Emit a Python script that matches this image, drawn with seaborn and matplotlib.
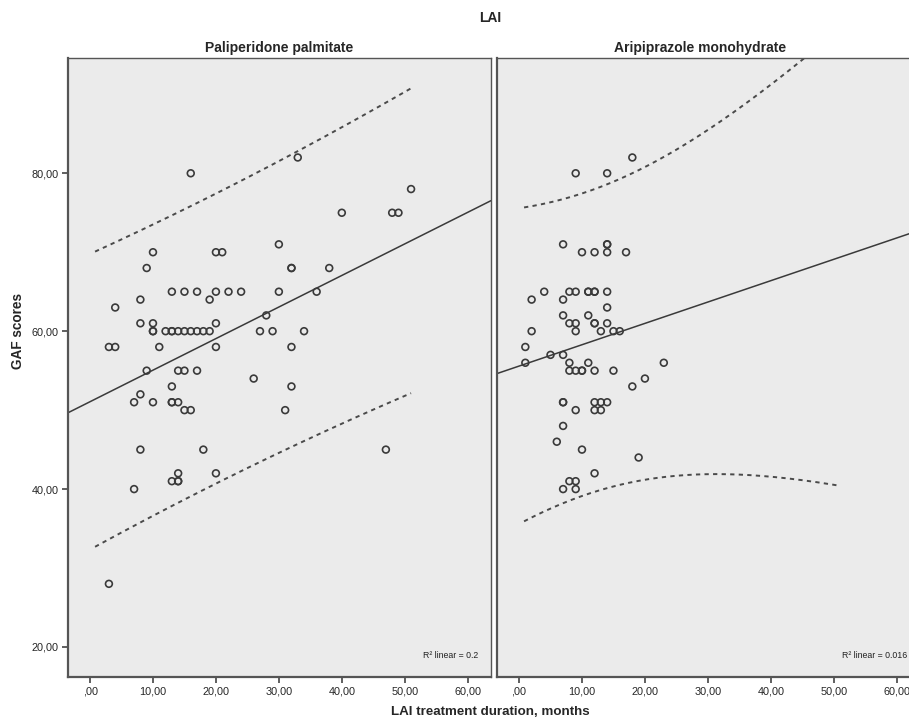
import numpy as np
import pandas as pd
import matplotlib
matplotlib.use('Agg')
import matplotlib.pyplot as plt
import seaborn as sns
from matplotlib.ticker import FuncFormatter

# values (months, GAF score)
pali_months = [16, 10, 9, 20, 21, 13, 15, 17, 20, 22, 24, 8, 19, 33, 51, 40, 48, 49, 30, 32, 32, 38,
               30, 36, 4, 8, 10, 10, 10, 12, 13, 13, 14, 15, 16, 17, 18, 19, 20, 27, 3, 4, 11, 20,
               9, 14, 15, 17, 26, 13, 8, 7, 10, 13, 13, 14, 15, 16, 28, 29, 34, 32, 32, 31, 47,
               8, 18, 14, 13, 14, 14, 20, 7, 3]
pali_gaf = [80, 70, 68, 70, 70, 65, 65, 65, 65, 65, 65, 64, 64, 82, 78, 75, 75, 75, 71, 68, 68, 68,
            65, 65, 63, 61, 61, 60, 60, 60, 60, 60, 60, 60, 60, 60, 60, 60, 61, 60, 58, 58, 58, 58,
            55, 55, 55, 55, 54, 53, 52, 51, 51, 51, 51, 51, 50, 50, 62, 60, 60, 58, 53, 50, 45,
            45, 45, 42, 41, 41, 41, 42, 40, 28]

arip_months = [9, 14, 18, 7, 14, 14, 10, 12, 14, 17, 2, 4, 7, 8, 9, 11, 11, 12, 12, 14, 14, 7, 11,
               8, 9, 12, 12, 14, 9, 13, 15, 16, 2, 1, 5, 7, 1, 8, 11, 8, 9, 10, 10, 12, 15, 23,
               20, 18, 7, 7, 12, 13, 14, 9, 12, 13, 7, 6, 10, 19, 12, 8, 9, 7, 9]
arip_gaf = [80, 80, 82, 71, 71, 71, 70, 70, 70, 70, 64, 65, 64, 65, 65, 65, 65, 65, 65, 65, 63, 62, 62,
            61, 61, 61, 61, 61, 60, 60, 60, 60, 60, 58, 57, 57, 56, 56, 56, 55, 55, 55, 55, 55, 55, 56,
            54, 53, 51, 51, 51, 51, 51, 50, 50, 50, 48, 46, 45, 44, 42, 41, 41, 40, 40]

drugs = ['Paliperidone palmitate', 'Aripiprazole monohydrate']
r2_labels = ['R\u00b2 linear = 0.2', 'R\u00b2 linear = 0.016']
x_ticks = [0, 10, 20, 30, 40, 50, 60]
y_ticks = [20, 40, 60, 80]

df = pd.concat([
    pd.DataFrame({'months': pali_months, 'gaf': pali_gaf, 'drug': drugs[0]}),
    pd.DataFrame({'months': arip_months, 'gaf': arip_gaf, 'drug': drugs[1]}),
])

sns.set_style('white')
plt.rcParams['font.family'] = ['Liberation Sans', 'DejaVu Sans']

fig = plt.figure(figsize=(9.09, 7.21), dpi=100)
W, H = 909, 721
ax1 = fig.add_axes([68 / W, 1 - 677 / H, 423 / W, 619 / H])
ax2 = fig.add_axes([497 / W, 1 - 677 / H, 423 / W, 619 / H])

xlim = (-3.5, 63.7)
ylim = (16.2, 94.6)
xmin_all, xmax_all = 0.8, df['months'].max()


def fmt(v, pos):
    if abs(v) < 1e-9:
        return ',00'
    return f'{v:.2f}'.replace('.', ',')


for ax, drug, r2 in zip([ax1, ax2], drugs, r2_labels):
    d = df[df['drug'] == drug]
    x = d['months'].to_numpy(float)
    y = d['gaf'].to_numpy(float)
    ax.set_facecolor('#ebebeb')
    sns.scatterplot(x=x, y=y, ax=ax, marker='o', s=24, facecolor='none',
                    edgecolor='#3a3a3a', linewidth=1.2, zorder=3)

    # linear fit and 95% individual prediction interval
    n = len(x)
    b, a = np.polyfit(x, y, 1)
    resid = y - (a + b * x)
    s = np.sqrt((resid ** 2).sum() / (n - 2))
    sxx = ((x - x.mean()) ** 2).sum()
    xl = np.linspace(xlim[0], xlim[1], 50)
    ax.plot(xl, a + b * xl, color='#3a3a3a', lw=1.1, zorder=2)
    xs = np.linspace(xmin_all, xmax_all, 200)
    half = 1.99 * s * np.sqrt(1 + 1 / n + (xs - x.mean()) ** 2 / sxx)
    for sign in (1, -1):
        ax.plot(xs, a + b * xs + sign * half, color='#4a4a4a', lw=1.4,
                linestyle=(0, (2.2, 2.2)), zorder=2)

    ax.set_xlim(*xlim)
    ax.set_ylim(*ylim)
    ax.set_xticks(x_ticks)
    ax.set_yticks(y_ticks)
    ax.xaxis.set_major_formatter(FuncFormatter(fmt))
    ax.yaxis.set_major_formatter(FuncFormatter(fmt))
    ax.tick_params(axis='both', labelsize=7.8, length=4, width=1.2, color='#444444',
                   direction='out', pad=3, bottom=True)
    ax.set_xlabel('')
    ax.set_ylabel('')
    for sp in ax.spines.values():
        sp.set_color('#555555')
        sp.set_linewidth(1.0)
    ax.spines['left'].set_linewidth(1.6)
    ax.spines['bottom'].set_linewidth(1.6)
    ax.text(0.97, 0.027, r2, transform=ax.transAxes, ha='right', va='bottom',
            fontsize=6.3, color='#222222')

ax1.tick_params(axis='y', left=True)
ax2.tick_params(axis='y', left=False, labelleft=False)

ax1.set_title(drugs[0], fontsize=10, fontweight='bold', pad=4)
ax2.set_title(drugs[1], fontsize=10, fontweight='bold', pad=4, x=0.48)
fig.text(490 / W, 1 - 18 / H, 'LAI', ha='center', va='center', fontsize=10, fontweight='bold')
fig.text(490 / W, 1 - 712 / H, 'LAI treatment duration, months', ha='center', va='center',
         fontsize=9.6, fontweight='bold')
fig.text(18 / W, 1 - 331 / H, 'GAF scores', ha='center', va='center', rotation=90,
         fontsize=9.8, fontweight='bold')

fig.savefig('out.png', dpi=100)
